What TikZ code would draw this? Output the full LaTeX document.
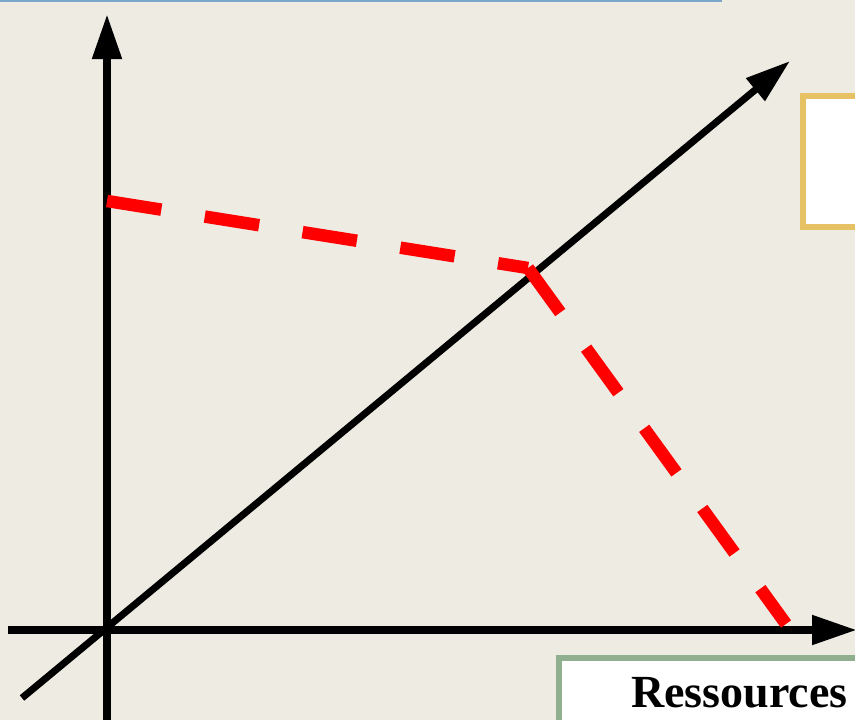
\documentclass[tikz,border=0pt]{standalone}
\usepackage{fontspec}
\setmainfont{Liberation Serif}
\usetikzlibrary{arrows.meta}
\definecolor{bgc}{HTML}{EEEBE3}
\definecolor{topblue}{HTML}{7BA7CB}
\definecolor{ybox}{HTML}{E6C264}
\definecolor{gbox}{HTML}{8FAF8F}
\tikzset{
  axis/.style={line width=8pt,-{Triangle[length=45pt,width=28pt]}},
  diag/.style={line width=7pt,-{Triangle[length=45pt,width=28pt]}},
  reddash/.style={red,line width=12.5pt,dash pattern=on 55pt off 44pt},
  framebox/.style={line width=6pt,fill=white}
}
\begin{document}
\begin{tikzpicture}[x=1pt,y=-1pt]
\useasboundingbox (0,0) rectangle (855,720);
\clip (0,0) rectangle (855,720);
\fill[bgc] (0,0) rectangle (855,720);
\draw[topblue,line width=2.5pt] (0,1) -- (722,1);
% boxes
\draw[framebox,draw=ybox] (803,96) rectangle (880,227);
\draw[framebox,draw=gbox] (559,658) rectangle (880,760);
\node[anchor=base west,inner sep=0pt,font=\fontsize{46}{50}\selectfont\bfseries] (res) at (631,707) {Ressources};
% coordinates
\coordinate (o) at (107,630);
\coordinate (ytop) at (107,14);
\coordinate (ybot) at (107,725);
\coordinate (xl) at (8,630);
\coordinate (xr) at (857,630);
\coordinate (dl) at (22,698);
\coordinate (dr) at (790,61);
\coordinate (p1) at (107,201);
\coordinate (p2) at (528,268);
\coordinate (p3) at (786,624);
% axes
\draw[axis] (ybot) -- (ytop);
\draw[axis] (xl) -- (xr);
\draw[diag] (dl) -- (dr);
% dashed
\draw[reddash] (p1) -- (p2);
\draw[reddash] (p2) -- (p3);
\end{tikzpicture}
\end{document}
